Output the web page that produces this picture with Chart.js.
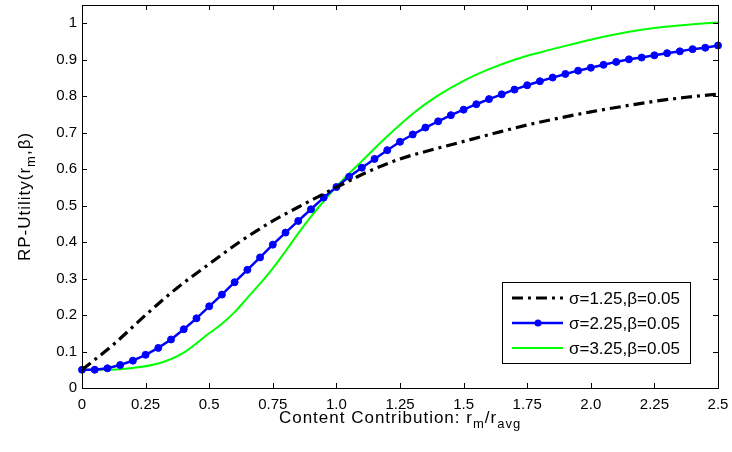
<!DOCTYPE html>
<html>
<head>
<meta charset="utf-8">
<script src="https://cdn.jsdelivr.net/npm/chart.js@4.4.1/dist/chart.umd.min.js"></script>
<style>
  html, body { margin: 0; padding: 0; background: #fff; }
  #wrap { width: 732px; height: 452px; }
</style>
</head>
<body>
<div id="wrap"><canvas id="utilityChart"></canvas></div>
<script>
// Axis ticks
const xTickValues = [0, 0.25, 0.5, 0.75, 1.0, 1.25, 1.5, 1.75, 2.0, 2.25, 2.5];
const xTickLabels = ["0", "0.25", "0.5", "0.75", "1.0", "1.25", "1.5", "1.75", "2.0", "2.25", "2.5"];
const yTickValues = [0, 0.1, 0.2, 0.3, 0.4, 0.5, 0.6, 0.7, 0.8, 0.9, 1.0];
const yTickLabels = ["0", "0.1", "0.2", "0.3", "0.4", "0.5", "0.6", "0.7", "0.8", "0.9", "1"];

// sigma = 1.25
const blackX = [0, 0.125, 0.25, 0.375, 0.5, 0.625, 0.75, 0.875, 1.0, 1.125, 1.25,
  1.375, 1.5, 1.625, 1.75, 1.875, 2.0, 2.125, 2.25, 2.375, 2.5];
const blackY = [0.05, 0.12, 0.2, 0.275, 0.34, 0.403, 0.458, 0.505, 0.55, 0.593, 0.628,
  0.653, 0.676, 0.699, 0.721, 0.74, 0.757, 0.772, 0.786, 0.797, 0.806];

// sigma = 2.25 (marked series)
const blueX = [0, 0.05, 0.1, 0.15, 0.2, 0.25, 0.3, 0.35, 0.4, 0.45, 0.5,
  0.55, 0.6, 0.65, 0.7, 0.75, 0.8, 0.85, 0.9, 0.95, 1.0,
  1.05, 1.1, 1.15, 1.2, 1.25, 1.3, 1.35, 1.4, 1.45, 1.5,
  1.55, 1.6, 1.65, 1.7, 1.75, 1.8, 1.85, 1.9, 1.95, 2.0,
  2.05, 2.1, 2.15, 2.2, 2.25, 2.3, 2.35, 2.4, 2.45, 2.5];
const blueY = [0.05, 0.05, 0.054, 0.063, 0.075, 0.091, 0.11, 0.133, 0.161, 0.191, 0.224,
  0.256, 0.29, 0.324, 0.358, 0.393, 0.426, 0.458, 0.49, 0.522, 0.551,
  0.579, 0.604, 0.628, 0.652, 0.675, 0.695, 0.714, 0.731, 0.748, 0.763,
  0.778, 0.792, 0.805, 0.818, 0.83, 0.841, 0.851, 0.861, 0.87, 0.878,
  0.886, 0.894, 0.901, 0.906, 0.912, 0.918, 0.923, 0.929, 0.933, 0.939];

// sigma = 3.25
const greenX = [0, 0.1, 0.2, 0.3, 0.4, 0.5, 0.55, 0.6, 0.65, 0.7, 0.75, 0.8, 0.85, 0.9,
  0.95, 1.0, 1.05, 1.1, 1.2, 1.3, 1.4, 1.5, 1.6, 1.7, 1.8, 1.9, 2.0, 2.1, 2.2, 2.3, 2.4, 2.5];
const greenY = [0.05, 0.05, 0.055, 0.067, 0.097, 0.15, 0.176, 0.208, 0.247, 0.286, 0.328, 0.375, 0.424, 0.47,
  0.512, 0.552, 0.588, 0.622, 0.69, 0.752, 0.802, 0.842, 0.874, 0.9, 0.92, 0.938, 0.955, 0.97, 0.982, 0.991, 0.997, 1.002];

const seriesLabels = ["σ=1.25,β=0.05", "σ=2.25,β=0.05", "σ=3.25,β=0.05"];

const FONT = "'Liberation Sans', Arial, sans-serif";
const BLACK_DASH = [11, 5, 3, 5];

const toPoints = (xs, ys) => xs.map((x, i) => ({ x: x, y: ys[i] }));

// draws text with subscript pieces: parts = [[text, isSub], ...]
function drawRichText(ctx, parts, cx, baseY, size, subSize) {
  let total = 0;
  parts.forEach(([t, sub]) => {
    ctx.font = `${sub ? subSize : size}px ${FONT}`;
    total += ctx.measureText(t).width;
  });
  let x = cx - total / 2;
  parts.forEach(([t, sub]) => {
    ctx.font = `${sub ? subSize : size}px ${FONT}`;
    ctx.fillText(t, x, baseY + (sub ? 5 : 0));
    x += ctx.measureText(t).width;
  });
}

// frame, inward ticks, axis titles and legend
const framePlugin = {
  id: "frame",
  afterDraw(chart) {
    const { ctx, chartArea: a, scales } = chart;
    const xs = scales.x;
    const ys = scales.y;
    const tick = 5;
    ctx.save();
    ctx.strokeStyle = "#000";
    ctx.lineWidth = 1;
    ctx.setLineDash([]);
    ctx.strokeRect(Math.round(a.left) + 0.5, Math.round(a.top) + 0.5,
      Math.round(a.right - a.left), Math.round(a.bottom - a.top));
    ctx.beginPath();
    xTickValues.forEach((v) => {
      const px = Math.round(xs.getPixelForValue(v)) + 0.5;
      ctx.moveTo(px, a.bottom);
      ctx.lineTo(px, a.bottom - tick);
      ctx.moveTo(px, a.top);
      ctx.lineTo(px, a.top + tick);
    });
    yTickValues.forEach((v) => {
      const py = Math.round(ys.getPixelForValue(v)) + 0.5;
      ctx.moveTo(a.left, py);
      ctx.lineTo(a.left + tick, py);
      ctx.moveTo(a.right, py);
      ctx.lineTo(a.right - tick, py);
    });
    ctx.stroke();

    // axis titles
    ctx.fillStyle = "#000";
    ctx.textBaseline = "alphabetic";
    ctx.textAlign = "left";
    ctx.letterSpacing = "1px";
    drawRichText(ctx, [["Content Contribution: r", false], ["m", true], ["/r", false], ["avg", true]],
      (a.left + a.right) / 2, 423, 17, 13);
    ctx.save();
    ctx.translate(30, (a.top + a.bottom) / 2);
    ctx.rotate(-Math.PI / 2);
    drawRichText(ctx, [["RP-Utility(r", false], ["m", true], [",β)", false]], 0, 0, 17, 13);
    ctx.restore();
    ctx.letterSpacing = "0px";

    // legend
    const lx = 502, ly = 282, lw = 188, lh = 81;
    ctx.fillStyle = "#fff";
    ctx.fillRect(lx, ly, lw, lh);
    ctx.strokeStyle = "#000";
    ctx.lineWidth = 1;
    ctx.strokeRect(lx + 0.5, ly + 0.5, lw, lh);
    const rows = [298, 323, 348];
    chart.data.datasets.forEach((ds, i) => {
      const y = rows[i];
      ctx.beginPath();
      ctx.strokeStyle = ds.borderColor;
      ctx.lineWidth = ds.borderWidth;
      ctx.setLineDash(ds.borderDash || []);
      ctx.moveTo(512, y);
      ctx.lineTo(563, y);
      ctx.stroke();
      ctx.setLineDash([]);
      if (ds.pointRadius > 0) {
        ctx.beginPath();
        ctx.fillStyle = ds.pointBackgroundColor;
        ctx.arc(538, y, ds.pointRadius, 0, Math.PI * 2);
        ctx.fill();
      }
      ctx.fillStyle = "#000";
      ctx.font = `17px ${FONT}`;
      ctx.textBaseline = "middle";
      ctx.fillText(seriesLabels[i], 569, y + 1);
    });
    ctx.restore();
  },
};

new Chart(document.getElementById("utilityChart"), {
  type: "line",
  data: {
    datasets: [
      {
        label: seriesLabels[0],
        data: toPoints(blackX, blackY),
        borderColor: "#000000",
        borderWidth: 3.2,
        borderDash: BLACK_DASH,
        pointRadius: 0,
        cubicInterpolationMode: "monotone",
      },
      {
        label: seriesLabels[1],
        data: toPoints(blueX, blueY),
        borderColor: "#0000ff",
        borderWidth: 2.5,
        pointRadius: 3.5,
        pointBackgroundColor: "#0000ff",
        pointBorderColor: "#0000ff",
        pointBorderWidth: 1,
        clip: false,
      },
      {
        label: seriesLabels[2],
        data: toPoints(greenX, greenY),
        borderColor: "#00ff00",
        borderWidth: 2,
        pointRadius: 0,
        cubicInterpolationMode: "monotone",
      },
    ],
  },
  options: {
    responsive: true,
    maintainAspectRatio: false,
    animation: false,
    layout: { padding: { top: 3, right: 14, left: 0, bottom: 0 } },
    plugins: { legend: { display: false }, tooltip: { enabled: false } },
    scales: {
      x: {
        type: "linear",
        min: 0,
        max: 2.5,
        grid: { display: false, drawTicks: false },
        border: { display: false },
        afterBuildTicks: (s) => { s.ticks = xTickValues.map((v) => ({ value: v })); },
        afterFit: (s) => { s.height = 64; s.paddingLeft = 0; s.paddingRight = 0; },
        ticks: {
          padding: 8,
          color: "#000",
          maxRotation: 0,
          autoSkip: false,
          font: { family: FONT, size: 15 },
          callback: (v, i) => xTickLabels[i],
        },
      },
      y: {
        type: "linear",
        min: 0,
        max: 1.05,
        grid: { display: false, drawTicks: false },
        border: { display: false },
        afterBuildTicks: (s) => { s.ticks = yTickValues.map((v) => ({ value: v })); },
        afterFit: (s) => { s.width = 82; s.paddingTop = 0; s.paddingBottom = 0; },
        ticks: {
          padding: 5,
          color: "#000",
          autoSkip: false,
          font: { family: FONT, size: 15 },
          callback: (v, i) => yTickLabels[i],
        },
      },
    },
  },
  plugins: [framePlugin],
});
</script>
</body>
</html>
